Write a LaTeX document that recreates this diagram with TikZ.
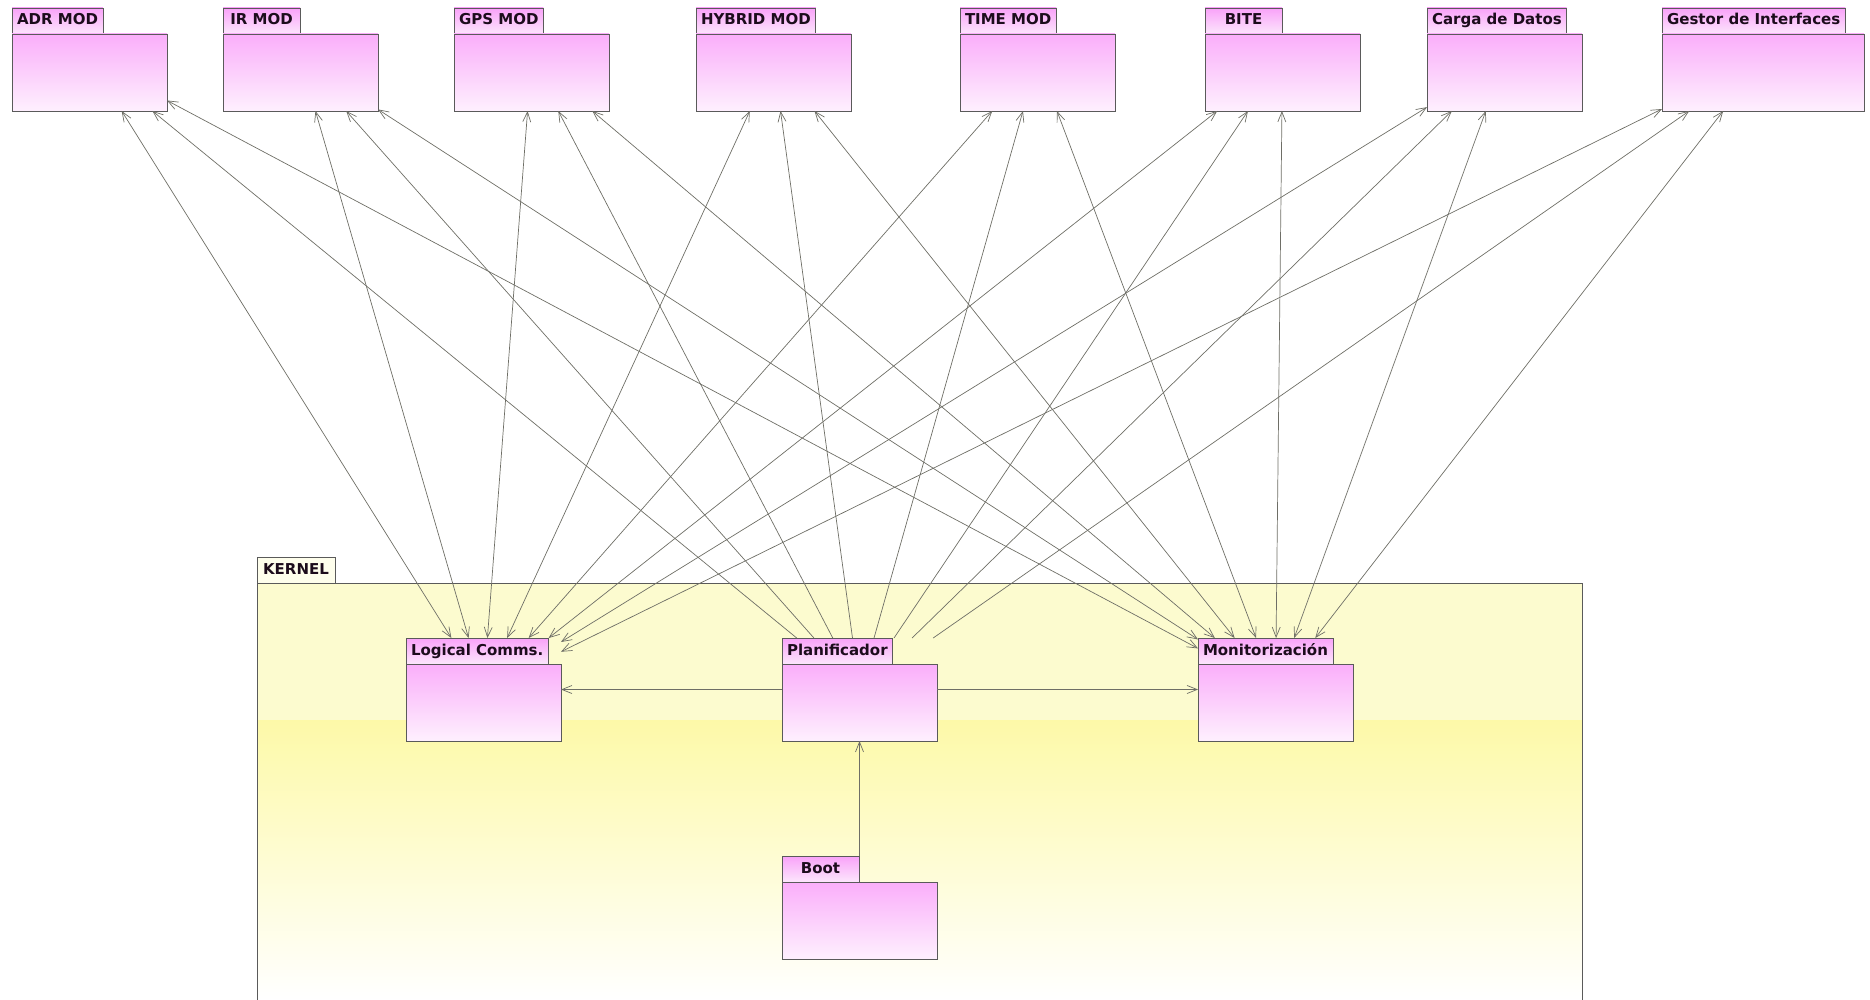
\documentclass[tikz,border=0pt]{standalone}
\usepackage{fontspec}
\setsansfont{DejaVu Sans}
\usepackage{tikz}
\usetikzlibrary{arrows.meta, positioning}
\definecolor{PkgLine}{HTML}{5A5A5A}
\definecolor{DepLine}{HTML}{6E6E66}
\definecolor{PkgTop}{HTML}{FAAEFA}
\definecolor{PkgMid}{HTML}{F985F9}
\definecolor{PkgLow}{HTML}{FEF0FE}
\definecolor{TabTop}{HTML}{F9A2F9}
\definecolor{TabLow}{HTML}{FCE6FC}
\definecolor{KernTop}{HTML}{FCFBCF}
\definecolor{KernMid}{HTML}{FDF9A8}
\definecolor{KernTab}{HTML}{FEFEEC}
\definecolor{LabelInk}{HTML}{1C0C1C}
\tikzset{
  pkgframe/.style={rectangle, inner sep=0pt, outer sep=0pt, minimum height=103pt, anchor=north west},
  pkgtab/.style={rectangle, draw=PkgLine, line width=0.9pt, top color=TabTop, bottom color=TabLow, minimum height=26pt, minimum width=77pt, inner xsep=5pt, inner ysep=0pt, outer sep=0pt, text height=11pt, text depth=3pt, anchor=north west, font=\sffamily\bfseries\fontsize{15}{17}\selectfont, text=LabelInk},
  pkgbody/.style={draw=PkgLine, line width=0.9pt, top color=PkgTop, middle color=PkgMid, bottom color=PkgLow},
  dep/.style={DepLine, line width=0.7pt}
}

\begin{document}
\begin{tikzpicture}[x=1pt, y=-1pt, >={Straight Barb[length=10pt, width=8pt]}]
  \useasboundingbox (0,0) rectangle (1870,1000);

  % KERNEL package, open at the bottom
  \node[pkgtab, top color=KernTab, bottom color=KernTab, minimum width=78pt] (kernel) at (257,557) {KERNEL};
  \fill[KernTop] (257,583) rectangle (1582,720);
  \shade[top color=KernMid, bottom color=white] (257,720) rectangle (1582,1000);
  \draw[PkgLine, line width=0.9pt] (257,1000) -- (257,583) -- (1582,583) -- (1582,1000);

  % Modules
  \foreach \name/\x/\w/\txt in {
    adr/12/155/{ADR MOD},
    ir/223/155/{IR MOD},
    gps/454/155/{GPS MOD},
    hybrid/696/155/{HYBRID MOD},
    time/960/155/{TIME MOD},
    bite/1205/155/{BITE},
    carga/1427/155/{Carga de Datos},
    gestor/1662/202/{Gestor de Interfaces}
  } {
    \node[pkgframe, minimum width=\w pt] (\name) at (\x,8) {};
    \node[pkgtab] (\name-t) at (\name.north west) {\txt};
    \draw[pkgbody] (\name-t.south west) rectangle (\name.south east);
  }

  % Kernel contents
  \foreach \name/\x/\y/\txt in {
    logic/406/638/{Logical Comms.},
    plan/782/638/{Planificador},
    monit/1198/638/{Monitorización},
    boot/782/856/{Boot}
  } {
    \node[pkgframe, minimum width=155pt] (\name) at (\x,\y) {};
    \node[pkgtab] (\name-t) at (\name.north west) {\txt};
    \draw[pkgbody] (\name-t.south west) rectangle (\name.south east);
  }

  % Dependencies
  \foreach \m in {adr,ir,gps,hybrid,time,bite,carga,gestor} {
    \draw[dep, <->] (logic) -- (\m);
    \draw[dep, ->] (plan) -- (\m);
    \draw[dep, <->] (monit) -- (\m);
  }
  \draw[dep, ->] (plan) -- (logic);
  \draw[dep, ->] (plan) -- (monit);
  \draw[dep, ->] (boot) -- (plan);
\end{tikzpicture}
\end{document}
